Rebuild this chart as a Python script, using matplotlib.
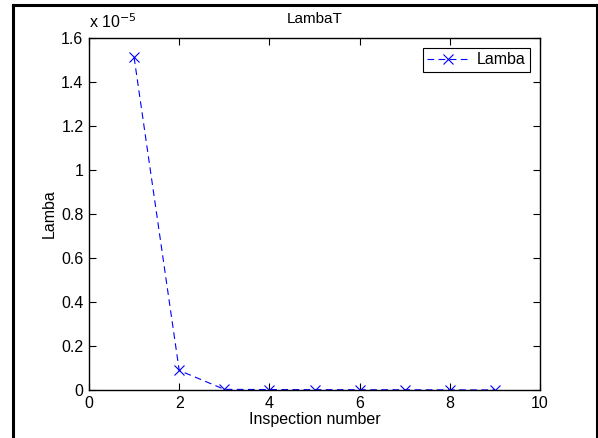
import matplotlib
matplotlib.use("Agg")
import matplotlib.pyplot as plt
from matplotlib.lines import Line2D

plt.rcParams['font.family'] = ['Liberation Sans', 'DejaVu Sans']
plt.rcParams['font.size'] = 11.5

# inspection number vs lamba (in units of 1e-5)
inspection = [1, 2, 3, 4, 5, 6, 7, 8, 9]
lamba = [1.512, 0.089, 0.003, 0.002, 0.0015, 0.0012, 0.001, 0.0006, 0.0003]

W, H = 598, 438
fig = plt.figure(figsize=(W / 100, H / 100), dpi=100)
ax = fig.add_axes([89 / W, 1 - 390 / H, (540 - 89) / W, (390 - 38) / H])

ax.plot(inspection, lamba, color='blue', linestyle='--', dashes=(6, 4),
        linewidth=0.8, marker='x', markersize=6.5, markeredgewidth=0.8, label='Lamba')

ax.set_xlim(0, 10)
ax.set_ylim(0, 1.6)
ax.set_xticks(range(0, 11, 2))
ax.set_yticks([0, 0.2, 0.4, 0.6, 0.8, 1.0, 1.2, 1.4, 1.6])
ax.set_yticklabels(['0', '0.2', '0.4', '0.6', '0.8', '1', '1.2', '1.4', '1.6'])
ax.tick_params(direction='in', top=True, right=True, length=5, width=0.8, pad=4)
for s in ax.spines.values():
    s.set_linewidth(1.0)

ax.set_xlabel('Inspection number', labelpad=1)
ax.set_ylabel('Lamba', labelpad=3)
ax.set_title('LambaT', fontsize=11, pad=11)
ax.text(0, 1.02, r'x 10$^{-5}$', transform=ax.transAxes, ha='left', va='bottom')

leg = ax.legend(loc='upper right', handlelength=2.6, handletextpad=0.5,
                fancybox=False, framealpha=1, edgecolor='black',
                borderaxespad=0.6, borderpad=0.3)
leg.get_frame().set_linewidth(0.8)

# outer figure border
for xs, ys in [((13, 13), (5, H)), ((13, 597), (5, 5)), ((597, 597), (5, H))]:
    fig.add_artist(Line2D([x / W for x in xs], [1 - y / H for y in ys],
                          color='black', linewidth=2.2))

fig.savefig('out.png', dpi=100)
